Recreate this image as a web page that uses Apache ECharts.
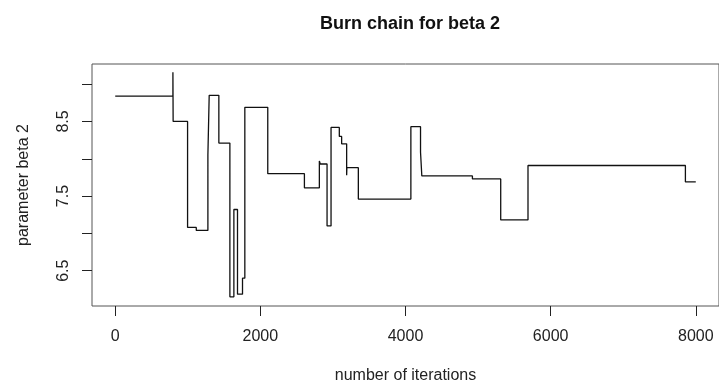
<!DOCTYPE html>
<html>
<head>
<meta charset="utf-8">
<script src="https://cdn.jsdelivr.net/npm/echarts@6/dist/echarts.min.js"></script>
<style>html,body{margin:0;padding:0;background:#fff;}#c{width:719px;height:389px;}</style>
</head>
<body>
<div id="c"></div>
<script>
// Iterations at which the chain value changes, and the new value
const iterations = [0, 795, 798, 997, 1117, 1277, 1295, 1428, 1580, 1635, 1685, 1754, 1786, 2102, 2607, 2813, 2825, 2919, 2974, 3088, 3120, 3189, 3192, 3350, 4074, 4207, 4225, 4922, 5312, 5688, 7857, 8000];
const beta2 = [8.84, 9.16, 8.50, 7.08, 7.04, 8.05, 8.85, 8.21, 6.15, 7.32, 6.185, 6.40, 8.69, 7.80, 7.61, 7.97, 7.93, 7.10, 8.42, 8.30, 8.20, 7.78, 7.88, 7.46, 8.43, 8.09, 7.77, 7.73, 7.18, 7.91, 7.69, 7.69];
const xTicks = [0, 2000, 4000, 6000, 8000];
const yTicks = [6.5, 7.0, 7.5, 8.0, 8.5, 9.0];
const yLabels = [6.5, 7.5, 8.5];

const chart = echarts.init(document.getElementById('c'), null, {renderer: 'canvas'});
const font = 'Liberation Sans, Arial, sans-serif';
chart.setOption({
  animation: false,
  backgroundColor: '#fff',
  title: {
    text: 'Burn chain for beta 2',
    left: 405, top: 10, textAlign: 'center',
    textStyle: {fontFamily: font, fontWeight: 'bold', fontSize: 18, color: '#111'}
  },
  grid: {left: 92, top: 64, width: 628, height: 242, show: true, borderColor: '#555', borderWidth: 1, backgroundColor: 'transparent'},
  xAxis: {
    type: 'value', min: -320, max: 8320,
    splitLine: {show: false},
    axisLine: {show: false, onZero: false},
    axisTick: {show: true, length: 10, customValues: xTicks, lineStyle: {color: '#222'}},
    axisLabel: {show: true, customValues: xTicks, margin: 23, fontFamily: font, fontSize: 16, color: '#222', formatter: v => String(v)},
    name: 'number of iterations', nameLocation: 'middle', nameGap: 62,
    nameTextStyle: {fontFamily: font, fontSize: 16, color: '#222'}
  },
  yAxis: {
    type: 'value', min: 6.027, max: 9.27,
    splitLine: {show: false},
    axisLine: {show: false, onZero: false},
    axisTick: {show: true, length: 10, customValues: yTicks, lineStyle: {color: '#222'}},
    axisLabel: {show: true, customValues: yLabels, rotate: 90, margin: 20, fontFamily: font, fontSize: 16, color: '#222', formatter: v => v.toFixed(1)},
    name: 'parameter beta 2', nameLocation: 'middle', nameGap: 60,
    nameTextStyle: {fontFamily: font, fontSize: 16, color: '#222'}
  },
  series: [{
    type: 'line', step: 'end', showSymbol: false, symbol: 'none',
    data: iterations.map((it, i) => [it, beta2[i]]),
    lineStyle: {color: '#111', width: 1.3}
  }]
});
</script>
</body>
</html>
